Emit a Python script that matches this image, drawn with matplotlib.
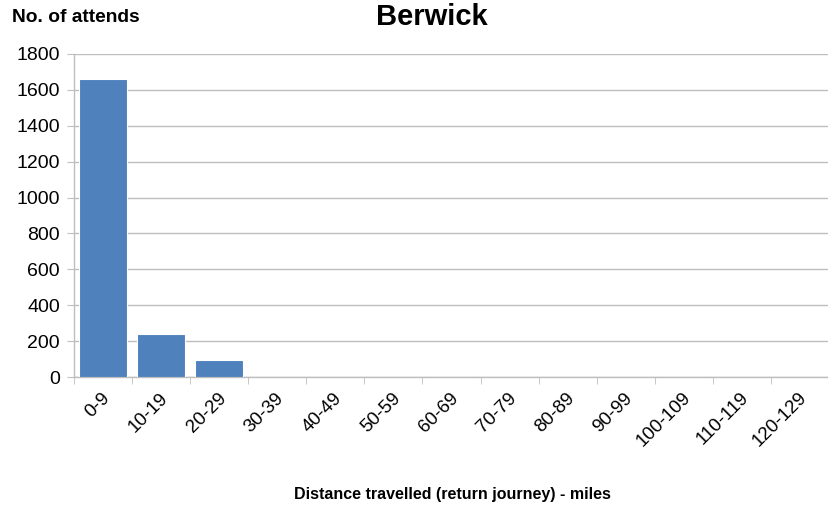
import matplotlib
matplotlib.use("Agg")
import matplotlib.pyplot as plt
import numpy as np

plt.rcParams['font.family'] = ['Liberation Sans', 'DejaVu Sans']

categories = ["0-9", "10-19", "20-29", "30-39", "40-49", "50-59", "60-69",
              "70-79", "80-89", "90-99", "100-109", "110-119", "120-129"]
values = [1660, 240, 95, 0, 0, 0, 0, 0, 0, 0, 0, 0, 0]
yticks = [0, 200, 400, 600, 800, 1000, 1200, 1400, 1600, 1800]

fig = plt.figure(figsize=(8.29, 5.09), dpi=100)
ax = fig.add_axes([74/829, 1-377/509, (829-74)/829, (377-54)/509])

x = np.arange(len(categories))
ax.bar(x, values, width=0.82, color="#4F81BD", edgecolor="white", linewidth=0.8, zorder=3)
ax.set_xlim(-0.5, len(categories) - 0.5)
ax.set_ylim(0, 1800)
ax.set_yticks(yticks)
ax.set_yticklabels([str(v) for v in yticks], fontsize=14)
ax.yaxis.grid(True, color="#BEBEBE", linewidth=1.0, zorder=0)
ax.tick_params(axis='y', length=5, color="#BEBEBE", pad=5)

ax.set_xticks(x - 0.03)
ax.set_xticklabels(categories, rotation=45, ha='right', rotation_mode='anchor', fontsize=13.5)
ax.set_xticks(np.arange(len(categories) + 1) - 0.5, minor=True)
ax.tick_params(axis='x', which='major', length=0, pad=9)
ax.tick_params(axis='x', which='minor', length=5, color="#BEBEBE")

for s in ['top', 'right']:
    ax.spines[s].set_visible(False)
for s in ['left', 'bottom']:
    ax.spines[s].set_color("#BEBEBE")
    ax.spines[s].set_linewidth(1.0)

fig.text(432/829, 1-17/509, "Berwick", fontsize=21, fontweight='bold', ha='center', va='center')
fig.text(12/829, 1-17/509, "No. of attends", fontsize=13.8, fontweight='bold', ha='left', va='center')
fig.text(452/829, 1-495/509, "Distance travelled (return journey) - miles", fontsize=11.5,
         fontweight='bold', ha='center', va='center')

fig.savefig("out.png", dpi=100)
